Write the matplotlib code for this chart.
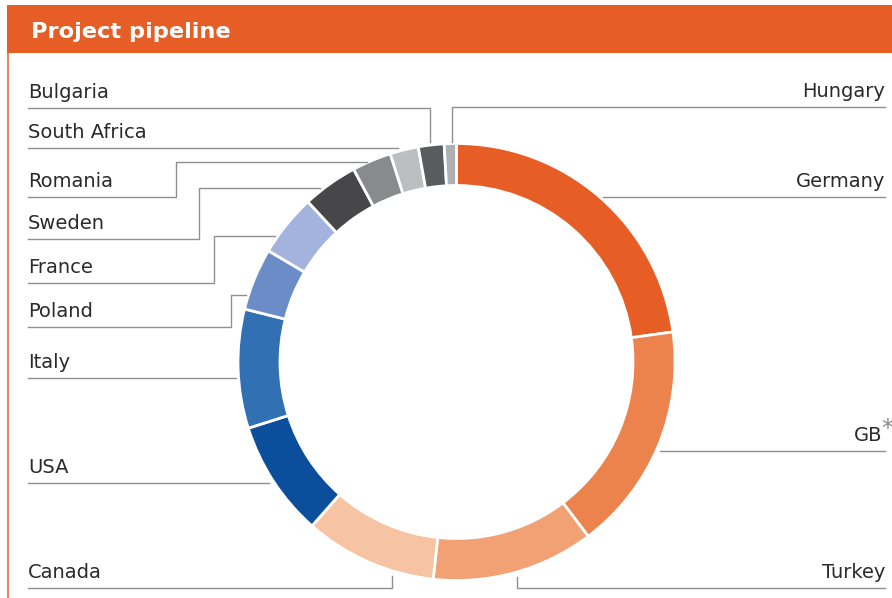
import matplotlib
matplotlib.use("Agg")
import matplotlib.pyplot as plt

# ---- data (share of project pipeline, %) clockwise from top ----
countries = ["Germany", "GB", "Turkey", "Canada", "USA", "Italy", "Poland",
             "France", "Sweden", "Romania", "South Africa", "Bulgaria", "Hungary"]
shares = [22.8, 16.9, 12.0, 9.8, 8.6, 8.8, 4.6, 4.6, 4.1, 2.9, 2.1, 1.9, 0.9]
colors = ["#E65D25", "#EC834D", "#F1A173", "#F6C4A2", "#0B4F9C", "#3270B4",
          "#6C8CC8", "#A3B3DD", "#474749", "#898A8B", "#BCBFC1", "#5A5B5D", "#AEB1B3"]
title = "Project pipeline"

W, H = 892, 598
ORANGE = "#E65D25"
TXT = "#2a2a2a"
LINE = "#8f8f8f"

fig = plt.figure(figsize=(W / 100, H / 100), dpi=100)
ax = fig.add_axes([0, 0, 1, 1])

def Y(y):
    return H - y

# donut
ax.pie(shares, colors=colors, startangle=90, counterclock=False,
       center=(456.5, Y(362)), radius=218.5,
       wedgeprops=dict(width=42, edgecolor="white", linewidth=2))

ax.set_xlim(0, W)
ax.set_ylim(0, H)
ax.set_aspect("equal")
ax.axis("off")

# title bar
ax.add_patch(plt.Rectangle((7, Y(53)), W - 7, 48, facecolor=ORANGE, edgecolor="none"))
ax.text(31, Y(37.5), title, color="white", fontsize=16.2, fontweight="bold",
        family="DejaVu Sans", va="baseline", ha="left")
# left frame line
ax.plot([7.5, 7.5], [Y(53), Y(598)], color="#E8703F", lw=1.2, solid_capstyle="butt")

# leader lines (pixel layout) and labels
left = {
    "Bulgaria":     [(28, 108), (430, 108), (430, 142)],
    "South Africa": [(28, 148), (398, 148)],
    "Romania":      [(28, 197), (176, 197), (176, 162), (367, 162)],
    "Sweden":       [(28, 239), (199, 239), (199, 188), (320, 188)],
    "France":       [(28, 283), (214, 283), (214, 236), (275, 236)],
    "Poland":       [(28, 327), (231, 327), (231, 295), (246, 295)],
    "Italy":        [(28, 378), (236, 378)],
    "USA":          [(28, 483), (269, 483)],
    "Canada":       [(28, 588), (392, 588), (392, 576)],
}
right = {
    "Hungary": [(885, 107), (452, 107), (452, 142)],
    "Germany": [(885, 197), (603, 197)],
    "GB":      [(885, 451), (660, 451)],
    "Turkey":  [(885, 588), (517, 588), (517, 577)],
}

FS = 14
for name, pts in left.items():
    xs = [p[0] for p in pts]
    ys = [Y(p[1]) for p in pts]
    ax.plot(xs, ys, color=LINE, lw=1.0, solid_joinstyle="miter")
    ax.text(28, Y(pts[0][1] - 10), name, color=TXT, fontsize=FS,
            va="baseline", ha="left")

for name, pts in right.items():
    xs = [p[0] for p in pts]
    ys = [Y(p[1]) for p in pts]
    ax.plot(xs, ys, color=LINE, lw=1.0, solid_joinstyle="miter")
    if name == "GB":
        ax.text(882, Y(pts[0][1] - 10), name, color=TXT, fontsize=FS,
                va="baseline", ha="right")
        ax.text(881, Y(pts[0][1] - 15), "*", color="#8a8a8a", fontsize=17,
                va="baseline", ha="left")
    else:
        ax.text(885, Y(pts[0][1] - 10), name, color=TXT, fontsize=FS,
                va="baseline", ha="right")

fig.savefig("out.png", dpi=100, facecolor="white")
